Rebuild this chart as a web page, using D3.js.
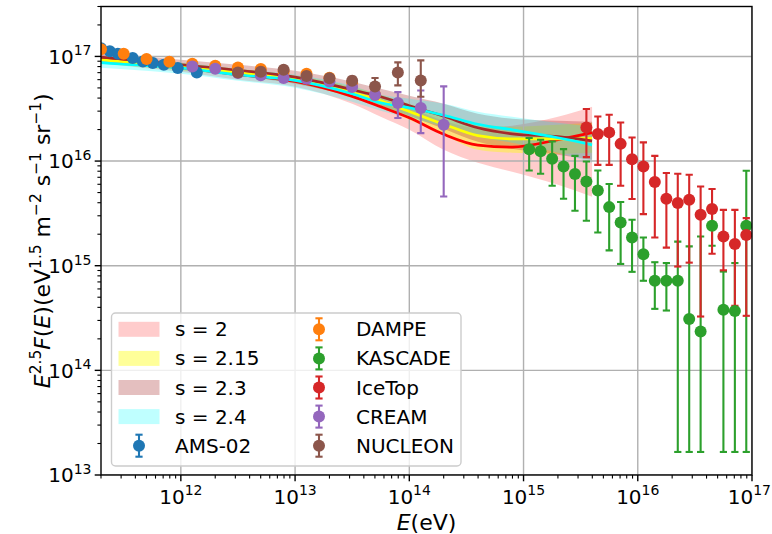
<!DOCTYPE html>
<html>
<head>
<meta charset="utf-8">
<script src="https://cdn.jsdelivr.net/npm/d3@7"></script>
<style>
  body { margin: 0; background: #fff; }
  svg { display: block; }
  text { font-family: "DejaVu Sans", sans-serif; fill: #000; }
</style>
</head>
<body>
<svg id="chart" width="772" height="534"></svg>
<script>
// ---- model curves: energies (eV) and E^2.5 F(E) for each source index s ----
const curveE = [2e11, 3.16e11, 1e12, 3.16e12, 1e13, 3.16e13, 5.62e13, 1e14, 2e14, 3.98e14, 7.94e14, 2e15, 3.98e15];

const lineS200 = [9.51e16, 9.00e16, 7.85e16, 6.68e16, 5.77e16, 4.15e16, 3.30e16, 2.59e16, 1.80e16, 1.42e16, 1.36e16, 1.60e16, 1.87e16];
const lineS215 = [9.30e16, 8.90e16, 8.02e16, 6.99e16, 6.08e16, 4.53e16, 3.77e16, 2.98e16, 2.25e16, 1.75e16, 1.63e16, 1.63e16, 1.65e16];
const lineS230 = [9.83e16, 9.40e16, 8.33e16, 7.38e16, 6.35e16, 4.81e16, 4.12e16, 3.38e16, 2.68e16, 2.08e16, 1.82e16, 1.71e16, 1.56e16];
const lineS240 = [8.71e16, 8.42e16, 7.75e16, 6.68e16, 5.90e16, 4.40e16, 3.61e16, 3.23e16, 2.74e16, 2.25e16, 1.99e16, 1.67e16, 1.43e16];

const bandS200Hi = [1.038e17, 9.93e16, 8.71e16, 7.46e16, 6.40e16, 4.81e16, 3.94e16, 3.23e16, 2.43e16, 2.08e16, 2.18e16, 2.65e16, 3.30e16];
const bandS200Lo = [8.71e16, 8.15e16, 7.14e16, 5.99e16, 5.13e16, 3.53e16, 2.65e16, 1.99e16, 1.28e16, 9.63e15, 7.90e15, 5.93e15, 4.56e15];
const bandS215Hi = [9.93e16, 9.61e16, 8.71e16, 7.63e16, 6.61e16, 5.13e16, 4.30e16, 3.53e16, 2.77e16, 2.27e16, 2.13e16, 2.22e16, 2.32e16];
const bandS215Lo = [8.71e16, 8.24e16, 7.38e16, 6.54e16, 5.54e16, 4.03e16, 3.23e16, 2.48e16, 1.78e16, 1.28e16, 1.20e16, 1.17e16, 1.20e16];
const bandS230Hi = [1.085e17, 1.038e17, 9.30e16, 8.33e16, 7.30e16, 5.73e16, 4.91e16, 4.21e16, 3.53e16, 2.83e16, 2.54e16, 2.43e16, 2.38e16];
const bandS230Lo = [8.90e16, 8.52e16, 7.46e16, 6.54e16, 5.48e16, 4.12e16, 3.38e16, 2.71e16, 2.04e16, 1.53e16, 1.31e16, 1.15e16, 1.03e16];
const bandS240Hi = [9.72e16, 9.40e16, 8.71e16, 7.63e16, 6.68e16, 5.25e16, 4.30e16, 3.94e16, 3.53e16, 2.96e16, 2.65e16, 2.32e16, 2.13e16];
const bandS240Lo = [7.80e16, 7.54e16, 6.83e16, 5.86e16, 5.02e16, 3.69e16, 3.03e16, 2.59e16, 2.13e16, 1.71e16, 1.50e16, 1.20e16, 9.63e15];

// ---- measurements ----
const amsE   = [2.0e11, 2.39e11, 2.81e11, 3.79e11, 4.65e11, 5.68e11, 7.10e11, 9.40e11, 1.38e12];
const amsF   = [1.20e17, 1.12e17, 1.06e17, 9.66e16, 8.96e16, 8.65e16, 8.34e16, 7.74e16, 7.03e16];
const amsLo  = [1.18e17, 1.10e17, 1.04e17, 9.50e16, 8.80e16, 8.50e16, 8.18e16, 7.58e16, 6.88e16];
const amsHi  = [1.22e17, 1.14e17, 1.08e17, 9.82e16, 9.12e16, 8.80e16, 8.50e16, 7.90e16, 7.18e16];

const dampeE  = [2.0e11, 3.16e11, 5.01e11, 7.94e11, 1.26e12, 2.0e12, 3.16e12, 5.01e12, 7.94e12, 1.26e13, 2.0e13, 3.16e13, 5.01e13];
const dampeF  = [1.17e17, 1.06e17, 9.44e16, 8.90e16, 8.51e16, 8.15e16, 7.85e16, 7.58e16, 7.19e16, 6.84e16, 6.27e16, 5.61e16, 4.31e16];
const dampeLo = [1.15e17, 1.04e17, 9.25e16, 8.72e16, 8.33e16, 7.97e16, 7.66e16, 7.38e16, 6.98e16, 6.60e16, 6.00e16, 5.30e16, 3.95e16];
const dampeHi = [1.19e17, 1.08e17, 9.63e16, 9.08e16, 8.69e16, 8.33e16, 8.04e16, 7.78e16, 7.40e16, 7.08e16, 6.54e16, 5.92e16, 4.67e16];

const kascadeE  = [1.12e15, 1.41e15, 1.78e15, 2.24e15, 2.82e15, 3.55e15, 4.47e15, 5.62e15, 7.08e15, 8.91e15,
                   1.12e16, 1.41e16, 1.78e16, 2.24e16, 2.82e16, 3.55e16, 4.47e16, 5.62e16, 7.08e16, 8.91e16];
const kascadeF  = [1.30e16, 1.24e16, 1.05e16, 8.88e15, 7.51e15, 6.39e15, 5.24e15, 3.63e15, 2.59e15, 1.86e15,
                   1.29e15, 7.18e14, 7.18e14, 7.18e14, 3.10e14, 2.35e14, 2.41e15, 3.79e14, 3.70e14, 2.41e15];
const kascadeLo = [8.13e15, 7.57e15, 5.81e15, 4.36e15, 3.35e15, 2.69e15, 2.08e15, 1.40e15, 1.04e15, 8.74e14,
                   7.18e14, 3.87e14, 3.73e14, 1.66e13, 1.66e13, 1.66e13, 1.55e15, 1.66e13, 1.66e13, 1.66e13];
const kascadeHi = [1.66e16, 1.60e16, 1.54e16, 1.30e16, 1.12e16, 9.91e15, 8.13e15, 6.03e15, 4.06e15, 2.75e15,
                   1.86e15, 1.08e15, 1.06e15, 1.70e15, 1.53e15, 1.90e15, 3.74e15, 8.79e14, 1.06e15, 8.07e15];

const icetopE  = [3.55e15, 4.47e15, 5.62e15, 7.08e15, 8.91e15, 1.12e16, 1.41e16, 1.78e16, 2.24e16, 2.82e16,
                  3.55e16, 4.47e16, 5.62e16, 7.08e16, 8.91e16];
const icetopF  = [2.09e16, 1.81e16, 1.88e16, 1.46e16, 1.04e16, 8.88e15, 6.30e15, 4.36e15, 3.97e15, 4.27e15,
                  3.07e15, 3.48e15, 1.90e15, 1.61e15, 1.97e15];
const icetopLo = [1.09e16, 9.20e15, 9.20e15, 5.81e15, 4.34e15, 3.11e15, 1.86e15, 1.49e15, 9.82e14, 1.07e15,
                  3.27e14, 1.30e15, 9.04e14, 4.14e14, 3.32e14];
const icetopHi = [3.14e16, 2.67e16, 2.77e16, 2.34e16, 1.68e16, 1.51e16, 1.12e16, 7.68e15, 7.57e15, 7.40e15,
                  5.72e15, 5.40e15, 3.42e15, 3.42e15, 2.85e15];

const creamE  = [1.26e12, 2.0e12, 3.16e12, 5.01e12, 7.94e12, 1.26e13, 2.0e13, 3.16e13, 5.01e13, 7.94e13, 1.26e14, 2.0e14];
const creamF  = [8.02e16, 7.62e16, 6.93e16, 6.61e16, 6.21e16, 6.12e16, 5.77e16, 5.09e16, 4.31e16, 3.58e16, 3.21e16, 2.22e16];
const creamLo = [7.80e16, 7.40e16, 6.70e16, 6.38e16, 5.95e16, 5.82e16, 5.42e16, 4.70e16, 3.90e16, 2.58e16, 1.85e16, 4.59e15];
const creamHi = [8.24e16, 7.84e16, 7.16e16, 6.84e16, 6.47e16, 6.42e16, 6.12e16, 5.48e16, 4.72e16, 4.56e16, 4.73e16, 5.17e16];

const nucleonE  = [3.16e12, 5.01e12, 7.94e12, 1.26e13, 2.0e13, 3.16e13, 5.01e13, 7.94e13, 1.26e14];
const nucleonF  = [7.03e16, 7.14e16, 7.47e16, 6.50e16, 6.20e16, 5.87e16, 5.17e16, 7.03e16, 5.90e16];
const nucleonLo = [6.80e16, 6.90e16, 7.20e16, 6.20e16, 5.80e16, 5.40e16, 4.53e16, 5.29e16, 4.12e16];
const nucleonHi = [7.30e16, 7.40e16, 7.80e16, 6.80e16, 6.60e16, 6.40e16, 6.22e16, 8.77e16, 9.16e16];

// ---- axis ticks ----
const xTickExp = [12, 13, 14, 15, 16, 17];
const yTickExp = [13, 14, 15, 16, 17];

// ---- layout ----
const W = 772;
const svg = d3.select("#chart");
const plot = { left: 101, right: 752, top: 6.5, bottom: 475 };
const x = d3.scaleLog().domain([2e11, 1e17]).range([plot.left, plot.right]);
const y = d3.scaleLog().domain([1e13, 3e17]).range([plot.bottom, plot.top]);

const FONT = 20, SUP = 14, RAISE = 8.5;       // tick labels and legend
const LFONT = 22, LSUP = 15.4, LRAISE = 9.5;   // axis titles

svg.append("defs").append("clipPath").attr("id", "clip")
  .append("rect").attr("x", plot.left).attr("y", plot.top)
  .attr("width", plot.right - plot.left).attr("height", plot.bottom - plot.top);

const models = [
  { label: "s = 2",    line: lineS200, lo: bandS200Lo, hi: bandS200Hi, color: "#ff0000", fill: "#ff0000", alpha: 0.2 },
  { label: "s = 2.15", line: lineS215, lo: bandS215Lo, hi: bandS215Hi, color: "#ffff00", fill: "#ffff00", alpha: 0.4 },
  { label: "s = 2.3",  line: lineS230, lo: bandS230Lo, hi: bandS230Hi, color: "#a52a2a", fill: "#a52a2a", alpha: 0.3 },
  { label: "s = 2.4",  line: lineS240, lo: bandS240Lo, hi: bandS240Hi, color: "#00ffff", fill: "#00ffff", alpha: 0.25 }
];

const experiments = [
  { label: "AMS-02",  E: amsE,     F: amsF,     lo: amsLo,     hi: amsHi,     color: "#1f77b4" },
  { label: "DAMPE",   E: dampeE,   F: dampeF,   lo: dampeLo,   hi: dampeHi,   color: "#ff7f0e" },
  { label: "KASCADE", E: kascadeE, F: kascadeF, lo: kascadeLo, hi: kascadeHi, color: "#2ca02c" },
  { label: "IceTop",  E: icetopE,  F: icetopF,  lo: icetopLo,  hi: icetopHi,  color: "#d62728" },
  { label: "CREAM",   E: creamE,   F: creamF,   lo: creamLo,   hi: creamHi,   color: "#9467bd" },
  { label: "NUCLEON", E: nucleonE, F: nucleonF, lo: nucleonLo, hi: nucleonHi, color: "#8c564b" }
];

const body = svg.append("g").attr("clip-path", "url(#clip)");

// uncertainty bands
const area = d3.area()
  .x(d => x(d[0])).y0(d => y(d[1])).y1(d => y(d[2]))
  .curve(d3.curveMonotoneX);
models.forEach(m => {
  body.append("path")
    .datum(curveE.map((e, i) => [e, m.lo[i], m.hi[i]]))
    .attr("d", area)
    .attr("fill", m.fill).attr("fill-opacity", m.alpha).attr("stroke", "none");
});

// grid on major decades
const gridG = body.append("g");
xTickExp.forEach(k => {
  gridG.append("line").attr("x1", x(10 ** k)).attr("x2", x(10 ** k))
    .attr("y1", plot.top).attr("y2", plot.bottom)
    .attr("stroke", "#b0b0b0").attr("stroke-width", 1.4);
});
yTickExp.forEach(k => {
  gridG.append("line").attr("y1", y(10 ** k)).attr("y2", y(10 ** k))
    .attr("x1", plot.left).attr("x2", plot.right)
    .attr("stroke", "#b0b0b0").attr("stroke-width", 1.4);
});

// model lines
const line = d3.line().x(d => x(d[0])).y(d => y(d[1])).curve(d3.curveMonotoneX);
models.forEach(m => {
  body.append("path")
    .datum(curveE.map((e, i) => [e, m.line[i]]))
    .attr("d", line)
    .attr("fill", "none").attr("stroke", m.color).attr("stroke-width", 2.7);
});

// error bars
const CAP = 3.6, EBW = 2.1, R = 6;
experiments.forEach(s => {
  const g = body.append("g").attr("stroke", s.color).attr("stroke-width", EBW);
  s.E.forEach((e, i) => {
    const cx = x(e), y0 = y(s.lo[i]), y1 = y(s.hi[i]);
    g.append("line").attr("x1", cx).attr("x2", cx).attr("y1", y0).attr("y2", y1);
    g.append("line").attr("x1", cx - CAP).attr("x2", cx + CAP).attr("y1", y0).attr("y2", y0);
    g.append("line").attr("x1", cx - CAP).attr("x2", cx + CAP).attr("y1", y1).attr("y2", y1);
  });
});
// markers on top of every bar
experiments.forEach(s => {
  body.append("g").selectAll("circle").data(s.E.map((e, i) => [e, s.F[i]])).join("circle")
    .attr("cx", d => x(d[0])).attr("cy", d => y(d[1])).attr("r", R)
    .attr("fill", s.color);
});

// ---- axes ----
const axisG = svg.append("g");
function decadeTicks(domain) {
  const lo = Math.floor(Math.log10(domain[0])), hi = Math.ceil(Math.log10(domain[1]));
  const out = [];
  for (let k = lo; k <= hi; k++) for (let m = 1; m <= 9; m++) {
    const v = m * 10 ** k;
    if (v >= domain[0] * 0.9999 && v <= domain[1] * 1.0001) out.push({ v, major: m === 1 });
  }
  return out;
}
decadeTicks(x.domain()).forEach(t => {
  axisG.append("line").attr("x1", x(t.v)).attr("x2", x(t.v))
    .attr("y1", plot.bottom).attr("y2", plot.bottom + (t.major ? 6.3 : 3.6))
    .attr("stroke", "#000").attr("stroke-width", t.major ? 1.4 : 1.1);
});
decadeTicks(y.domain()).forEach(t => {
  axisG.append("line").attr("y1", y(t.v)).attr("y2", y(t.v))
    .attr("x1", plot.left).attr("x2", plot.left - (t.major ? 6.3 : 3.6))
    .attr("stroke", "#000").attr("stroke-width", t.major ? 1.4 : 1.1);
});

function powerLabel(sel, k) {
  sel.append("tspan").text("10");
  sel.append("tspan").attr("dy", -RAISE).attr("font-size", SUP).text(String(k));
}
xTickExp.forEach(k => {
  const t = axisG.append("text").attr("x", x(10 ** k)).attr("y", 503.5)
    .attr("text-anchor", "middle").attr("font-size", FONT);
  powerLabel(t, k);
  // keep the last label inside the canvas
  const bb = t.node().getBBox();
  if (bb.x + bb.width > W - 1) t.attr("x", x(10 ** k) - (bb.x + bb.width - (W - 1)));
});
yTickExp.forEach(k => {
  const t = axisG.append("text").attr("x", plot.left - 9.5).attr("y", y(10 ** k) + 7.3)
    .attr("text-anchor", "end").attr("font-size", FONT);
  powerLabel(t, k);
});

// frame
axisG.append("rect").attr("x", plot.left).attr("y", plot.top)
  .attr("width", plot.right - plot.left).attr("height", plot.bottom - plot.top)
  .attr("fill", "none").attr("stroke", "#000").attr("stroke-width", 1.4);

// axis titles
const xt = svg.append("text").attr("x", (plot.left + plot.right) / 2).attr("y", 530)
  .attr("text-anchor", "middle").attr("font-size", LFONT);
xt.append("tspan").attr("font-style", "italic").text("E");
xt.append("tspan").text("(eV)");

const yt = svg.append("text").attr("transform", `translate(50,${(plot.top + plot.bottom) / 2}) rotate(-90)`)
  .attr("text-anchor", "middle").attr("font-size", LFONT);
const ypieces = [
  ["E", "it"], ["2.5", "sup"], ["F", "it"], ["(", ""], ["E", "it"], [")(eV", ""], ["1.5", "sup"],
  [" m", ""], ["\u22122", "sup"], [" s", ""], ["\u22121", "sup"], [" sr", ""], ["\u22121", "sup"], [")", ""]
];
let raised = false;
ypieces.forEach(([txt, kind]) => {
  const ts = yt.append("tspan").text(txt);
  if (kind === "sup") {
    ts.attr("font-size", LSUP).attr("dy", raised ? 0 : -LRAISE);
    raised = true;
  } else {
    if (raised) ts.attr("dy", LRAISE);
    raised = false;
    if (kind === "it") ts.attr("font-style", "italic");
  }
});

// ---- legend ----
const lg = svg.append("g");
lg.append("rect").attr("x", 111.5).attr("y", 313).attr("width", 349.5).attr("height", 153)
  .attr("rx", 4).attr("fill", "#fff").attr("fill-opacity", 0.8)
  .attr("stroke", "#cccccc").attr("stroke-width", 1.4);
const rowY = i => 329.3 + i * 29.1;
const legendItems = [
  ...models.map(m => ({ type: "band", m })),
  ...experiments.map(s => ({ type: "err", s }))
];
legendItems.forEach((it, idx) => {
  const col = idx < 5 ? 0 : 1, row = idx % 5;
  const cy = rowY(row);
  const hx = col === 0 ? 118.5 : 298.5;
  const tx = col === 0 ? 175 : 356;
  if (it.type === "band") {
    lg.append("rect").attr("x", hx).attr("y", cy - 7.5).attr("width", 41).attr("height", 15)
      .attr("fill", it.m.fill).attr("fill-opacity", it.m.alpha);
  } else {
    const mx = hx + 20.5;
    const g = lg.append("g").attr("stroke", it.s.color).attr("stroke-width", EBW);
    g.append("line").attr("x1", mx).attr("x2", mx).attr("y1", cy - 11).attr("y2", cy + 11);
    g.append("line").attr("x1", mx - CAP).attr("x2", mx + CAP).attr("y1", cy - 11).attr("y2", cy - 11);
    g.append("line").attr("x1", mx - CAP).attr("x2", mx + CAP).attr("y1", cy + 11).attr("y2", cy + 11);
    lg.append("circle").attr("cx", mx).attr("cy", cy).attr("r", R).attr("fill", it.s.color);
  }
  lg.append("text").attr("x", tx).attr("y", cy + 7).attr("font-size", FONT)
    .text(it.type === "band" ? it.m.label : it.s.label);
});
</script>
</body>
</html>
